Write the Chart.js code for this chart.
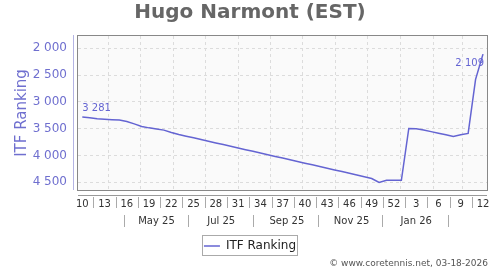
<!DOCTYPE html>
<html>
<head>
<meta charset="utf-8">
<script src="https://cdn.jsdelivr.net/npm/chart.js@4.4.1/dist/chart.umd.min.js"></script>
<style>
  html, body { margin: 0; padding: 0; background: #fff; }
</style>
</head>
<body>
<canvas id="rank-chart" width="500" height="270"></canvas>
<script>
// weekly ITF ranking, week 10 of 2025 to week 12 of 2026
const weeks = [10, 11, 12, 13, 14, 15, 16, 17, 18, 19, 20, 21, 22, 23, 24, 25, 26, 27, 28, 29,
  30, 31, 32, 33, 34, 35, 36, 37, 38, 39, 40, 41, 42, 43, 44, 45, 46, 47, 48, 49, 50, 51, 52,
  1, 2, 3, 4, 5, 6, 7, 8, 9, 10, 11, 12];
const ranking = [3281, 3295, 3315, 3325, 3332, 3340, 3365, 3410, 3460, 3485, 3505, 3527, 3570,
  3608, 3640, 3671, 3703, 3734, 3766, 3797, 3829, 3860, 3892, 3923, 3955, 3986, 4018, 4049,
  4081, 4112, 4144, 4175, 4207, 4238, 4270, 4301, 4333, 4364, 4396, 4430, 4505, 4465, 4465,
  4465, 3495, 3500, 3525, 3555, 3585, 3612, 3645, 3615, 3588, 2580, 2109];
const yTicks = [2000, 2500, 3000, 3500, 4000, 4500];
const monthLabels = ['May 25', 'Jul 25', 'Sep 25', 'Nov 25', 'Jan 26'];
const firstDay = Date.UTC(2025, 2, 7);

const PURPLE = '#6464d2';
const weekOf = ms => (ms - firstDay) / (7 * 864e5);
const fmt = v => String(v).replace(/\B(?=(\d{3})+(?!\d))/g, ' ');

const monthStarts = [];
for (let m = 0; m < 12; m++) monthStarts.push(weekOf(Date.UTC(2025, 3 + m, 1)));
const monthMids = monthLabels.map((_, k) => weekOf(Date.UTC(2025, 4 + 2 * k, 16)));
const monthSeps = [];
for (let k = 0; k <= monthLabels.length; k++) monthSeps.push(weekOf(Date.UTC(2025, 3 + 2 * k, 15)));
const weekTickIdx = weeks.map((w, i) => i).filter(i => i % 3 === 0);

const xRange = { min: -0.58, max: 54.54 };

const framePlugin = {
  id: 'frame',
  beforeDraw(chart) {
    const { ctx, chartArea: a } = chart;
    ctx.save();
    ctx.fillStyle = '#fafafa';
    ctx.fillRect(a.left, a.top, a.right - a.left, a.bottom - a.top);
    ctx.restore();
  },
  afterDraw(chart) {
    const { ctx, chartArea: a, scales } = chart;
    ctx.save();
    ctx.lineWidth = 1;
    ctx.strokeStyle = '#888';
    ctx.strokeRect(a.left - 0.5, a.top - 0.5, a.right - a.left + 1, a.bottom - a.top + 1);

    // offset axis lines
    ctx.strokeStyle = '#b4b4e4';
    ctx.beginPath();
    ctx.moveTo(73.5, a.top - 1);
    ctx.lineTo(73.5, a.bottom);
    ctx.stroke();
    ctx.strokeStyle = '#999';
    ctx.beginPath();
    ctx.moveTo(a.left, a.bottom + 5.5);
    ctx.lineTo(a.right, a.bottom + 5.5);
    ctx.stroke();

    // label separators
    ctx.strokeStyle = '#aaa';
    const xs = scales.xWeek;
    ctx.beginPath();
    for (let i = 0; i < weekTickIdx.length - 1; i++) {
      const px = Math.round(xs.getPixelForValue(weekTickIdx[i] + 1.5)) + 0.5;
      ctx.moveTo(px, xs.top + 7);
      ctx.lineTo(px, xs.top + 18);
    }
    const xm = scales.xMonth;
    monthSeps.forEach(v => {
      const px = Math.round(xm.getPixelForValue(v)) + 0.5;
      ctx.moveTo(px, xm.top + 3);
      ctx.lineTo(px, xm.top + 15);
    });
    ctx.stroke();

    // first / last value labels
    const pts = chart.getDatasetMeta(0).data;
    ctx.font = '10px "DejaVu Sans"';
    ctx.fillStyle = PURPLE;
    ctx.textBaseline = 'middle';
    const p0 = pts[0], pN = pts[pts.length - 1];
    ctx.textAlign = 'left';
    ctx.fillText(fmt(ranking[0]), p0.x, p0.y - 9);
    ctx.textAlign = 'right';
    ctx.fillText(fmt(ranking[ranking.length - 1]), pN.x + 1, pN.y + 9);

    // legend frame
    const hb = chart.legend.legendHitBoxes[0];
    if (hb) {
      ctx.strokeStyle = '#aaa';
      ctx.strokeRect(Math.round(hb.left - 2) + 0.5, Math.round(hb.top - 5) + 0.5, Math.round(hb.width + 3), 20);
    }

    // footer
    ctx.font = '9px "DejaVu Sans"';
    ctx.fillStyle = '#555';
    ctx.textAlign = 'right';
    ctx.fillText('\u00a9 www.coretennis.net, 03-18-2026', 488, 264);
    ctx.restore();
  }
};

Chart.defaults.font.family = '"DejaVu Sans", sans-serif';

new Chart(document.getElementById('rank-chart'), {
  type: 'line',
  data: {
    datasets: [{
      label: 'ITF Ranking',
      data: ranking.map((v, i) => ({ x: i, y: v })),
      borderColor: PURPLE,
      backgroundColor: PURPLE,
      borderWidth: 1.5,
      pointRadius: 0,
      tension: 0
    }]
  },
  options: {
    responsive: false,
    animation: false,
    layout: { padding: { left: 13, right: 13, top: 0, bottom: 8 } },
    plugins: {
      title: {
        display: true,
        text: 'Hugo Narmont (EST)',
        color: '#666',
        font: { size: 20, weight: 'bold' },
        padding: { top: 1, bottom: 11 }
      },
      legend: {
        position: 'bottom',
        labels: {
          usePointStyle: true,
          pointStyle: 'line',
          pointStyleWidth: 16,
          padding: 5,
          color: '#222',
          font: { size: 12 }
        }
      },
      tooltip: { enabled: false }
    },
    scales: {
      x: {
        type: 'linear', ...xRange, weight: 0,
        afterBuildTicks: s => { s.ticks = monthStarts.map(v => ({ value: v })); },
        ticks: { display: false },
        grid: { color: '#dcdcdc', drawTicks: false },
        border: { display: false, dash: [3, 3] },
        afterFit: s => { s.height = 0; }
      },
      xWeek: {
        type: 'linear', position: 'bottom', ...xRange, weight: 1,
        afterBuildTicks: s => { s.ticks = weekTickIdx.map(v => ({ value: v })); },
        ticks: { autoSkip: false, maxRotation: 0, padding: 8, color: '#333', font: { size: 10 },
          callback: v => weeks[v] },
        grid: { display: false, drawTicks: false },
        border: { display: false },
        afterFit: s => { s.height = 22; }
      },
      xMonth: {
        type: 'linear', position: 'bottom', ...xRange, weight: 2,
        afterBuildTicks: s => { s.ticks = monthMids.map(v => ({ value: v })); },
        ticks: { autoSkip: false, maxRotation: 0, padding: 3, color: '#333', font: { size: 10 },
          callback: (v, i) => monthLabels[i] },
        grid: { display: false, drawTicks: false },
        border: { display: false },
        afterFit: s => { s.height = 23; }
      },
      y: {
        reverse: true, min: 1770, max: 4645,
        afterBuildTicks: s => { s.ticks = yTicks.map(v => ({ value: v })); },
        ticks: { padding: 11, color: '#6f6fcf', font: { size: 12 }, callback: v => fmt(v) },
        grid: { color: '#dcdcdc', drawTicks: false },
        border: { display: false, dash: [3, 3] },
        title: { display: true, text: 'ITF Ranking', color: '#6f6fcf', font: { size: 15 }, padding: 0 },
        afterFit: s => { s.width = 65; }
      }
    }
  },
  plugins: [framePlugin]
});
</script>
</body>
</html>
